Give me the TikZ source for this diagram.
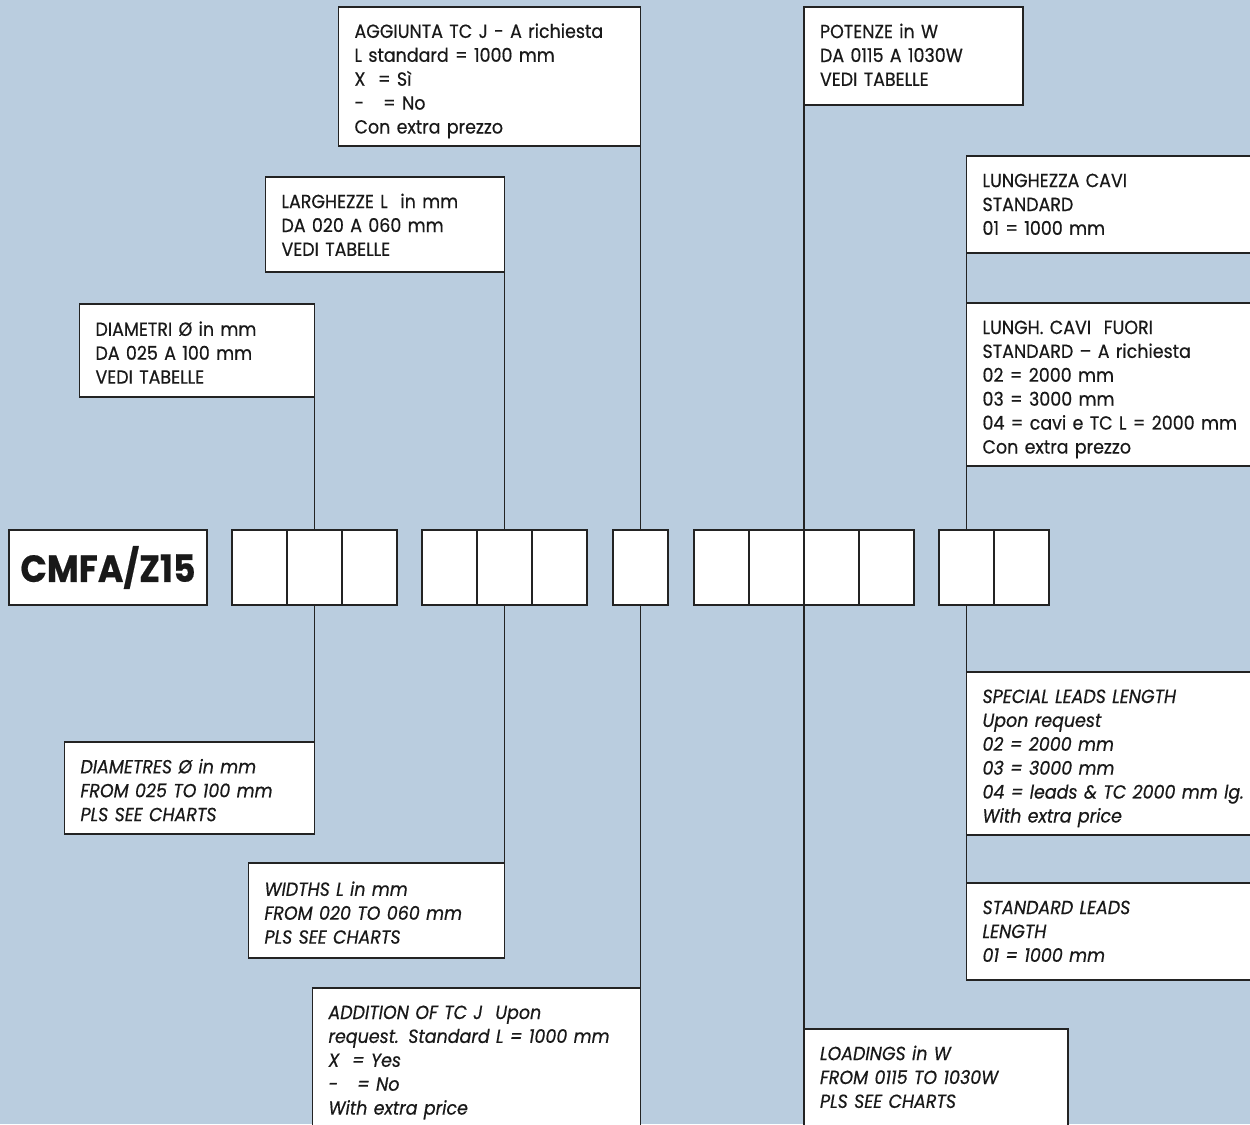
\documentclass[tikz,border=0pt]{standalone}
\usepackage{fontspec}
\setmainfont{Poppins}[FakeStretch=0.92,WordSpace=0.85,FakeBold=0.5]
\usepackage{tikz}

\definecolor{fondo}{RGB}{186,205,223}
\definecolor{tratto}{RGB}{35,35,35}

\begin{document}
\begin{tikzpicture}
    \tikzset{Casella/.style = {shape=rectangle,draw=tratto,fill=white,line width=1.1pt,outer sep=0pt,minimum width=1.1cm,minimum height=1.5cm}}
    \tikzset{Riquadro/.style = {shape=rectangle,draw=tratto,fill=white,line width=1.1pt,outer sep=0pt,align=left,inner xsep=0.32cm,inner ysep=0pt,text=black!90,font=\fontsize{10.8pt}{13.6pt}\selectfont,
        execute at begin node={\rule{0pt}{0.62cm}},execute at end node={\rule[-0.25cm]{0pt}{0.25cm}}}}
    \tikzset{RiquadroEn/.style = {Riquadro,font=\fontsize{10.8pt}{13.6pt}\selectfont\itshape}}
    \tikzset{PiedeAlto/.style = {execute at end node={\rule[-#1]{0pt}{#1}}}}
    \tikzset{Codice/.style = {shape=rectangle,draw=tratto,fill=white,line width=1.1pt,outer sep=0pt,minimum width=3.96cm,minimum height=1.5cm,text=black!90,font=\fontsize{21.5pt}{24pt}\selectfont\bfseries}}
    \tikzset{linea/.style = {draw=tratto,line width=1.1pt}}

    \useasboundingbox (0,0) rectangle (25,-22.48);
    \clip (0,0) rectangle (25,-22.48);
    \fill[fondo] (0,0) rectangle (25,-22.48);

    %Codice e caselle
    \node[Codice] (codice) at (2.16,-11.35) {CMFA/Z15};

    \node[Casella] (diam1) at (5.19,-11.35) {};
    \node[Casella] (diam2) at (6.29,-11.35) {};
    \node[Casella] (diam3) at (7.39,-11.35) {};

    \node[Casella] (larg1) at (8.99,-11.35) {};
    \node[Casella] (larg2) at (10.09,-11.35) {};
    \node[Casella] (larg3) at (11.19,-11.35) {};

    \node[Casella] (tcj) at (12.81,-11.35) {};

    \node[Casella] (pot1) at (14.43,-11.35) {};
    \node[Casella] (pot2) at (15.53,-11.35) {};
    \node[Casella] (pot3) at (16.63,-11.35) {};
    \node[Casella] (pot4) at (17.73,-11.35) {};

    \node[Casella] (cavi1) at (19.33,-11.35) {};
    \node[Casella] (cavi2) at (20.43,-11.35) {};

    %Riquadri sopra (italiano)
    \node[Riquadro,anchor=south east,text width=4.06cm,minimum height=1.86cm] (diametriIt) at (6.29,-7.94)
        {DIAMETRI Ø in mm\\DA 025 A 100 mm\\VEDI TABELLE};
    \node[Riquadro,PiedeAlto=0.32cm,anchor=south east,text width=4.14cm,minimum height=1.90cm] (larghezzeIt) at (10.09,-5.44)
        {LARGHEZZE L\ \ in mm\\DA 020 A 060 mm\\VEDI TABELLE};
    \node[Riquadro,anchor=south east,text width=5.40cm,minimum height=2.78cm] (aggiuntaIt) at (12.81,-2.92)
        {AGGIUNTA TC J - A richiesta\\L standard = 1000 mm\\X\ \ = Sì\\-\ \ \ = No\\Con extra prezzo};
    \node[Riquadro,PiedeAlto=0.38cm,anchor=south west,text width=3.74cm,minimum height=1.96cm] (potenzeIt) at (16.08,-2.10)
        {POTENZE in W\\DA 0115 A 1030W\\VEDI TABELLE};
    \node[Riquadro,PiedeAlto=0.36cm,anchor=south west,text width=5.80cm,minimum height=1.94cm] (caviStdIt) at (19.33,-5.06)
        {LUNGHEZZA CAVI\\STANDARD\\01 = 1000 mm};
    \node[Riquadro,anchor=south west,text width=5.80cm,minimum height=3.22cm] (caviFuoriIt) at (19.33,-9.32)
        {LUNGH. CAVI\ \ FUORI\\STANDARD – A richiesta\\02 = 2000 mm\\03 = 3000 mm\\04 = cavi e TC L = 2000 mm\\Con extra prezzo};

    %Riquadri sotto (inglese)
    \node[RiquadroEn,anchor=north east,text width=4.36cm,minimum height=1.84cm] (diametriEn) at (6.29,-14.84)
        {DIAMETRES Ø in mm\\FROM 025 TO 100 mm\\PLS SEE CHARTS};
    \node[RiquadroEn,anchor=north east,text width=4.48cm,minimum height=1.90cm] (widthsEn) at (10.09,-17.26)
        {WIDTHS L in mm\\FROM 020 TO 060 mm\\PLS SEE CHARTS};
    \node[RiquadroEn,anchor=north east,text width=5.92cm,minimum height=2.78cm] (additionEn) at (12.81,-19.76)
        {ADDITION OF TC J\ \ Upon\\request. Standard L = 1000 mm\\X\ \ = Yes\\-\ \ \ = No\\With extra price};
    \node[RiquadroEn,PiedeAlto=0.38cm,anchor=north west,text width=4.64cm,minimum height=1.96cm] (loadingsEn) at (16.08,-20.58)
        {LOADINGS in W\\FROM 0115 TO 1030W\\PLS SEE CHARTS};
    \node[RiquadroEn,anchor=north west,text width=5.80cm,minimum height=3.22cm] (leadsSpecialEn) at (19.33,-13.44)
        {SPECIAL LEADS LENGTH\\Upon request\\02 = 2000 mm\\03 = 3000 mm\\04 = leads \& TC 2000 mm lg.\\With extra price};
    \node[RiquadroEn,PiedeAlto=0.36cm,anchor=north west,text width=5.80cm,minimum height=1.94cm] (leadsStdEn) at (19.33,-17.66)
        {STANDARD LEADS\\LENGTH\\01 = 1000 mm};

    %Collegamenti in alto
    \draw [linea] (diam2.north) -- (diametriIt.south east);
    \draw [linea] (larg2.north) -- (larghezzeIt.south east);
    \draw [linea] (tcj.north) -- (aggiuntaIt.south east);
    \draw [linea] (pot2.north east) -- (potenzeIt.south west);
    \draw [linea] (cavi1.north) -- (caviFuoriIt.south west);
    \draw [linea] (caviFuoriIt.north west) -- (caviStdIt.south west);

    %Collegamenti in basso
    \draw [linea] (diam2.south) -- (diametriEn.north east);
    \draw [linea] (larg2.south) -- (widthsEn.north east);
    \draw [linea] (tcj.south) -- (additionEn.north east);
    \draw [linea] (pot2.south east) -- (loadingsEn.north west);
    \draw [linea] (cavi1.south) -- (leadsSpecialEn.north west);
    \draw [linea] (leadsSpecialEn.south west) -- (leadsStdEn.north west);

\end{tikzpicture}
\end{document}
